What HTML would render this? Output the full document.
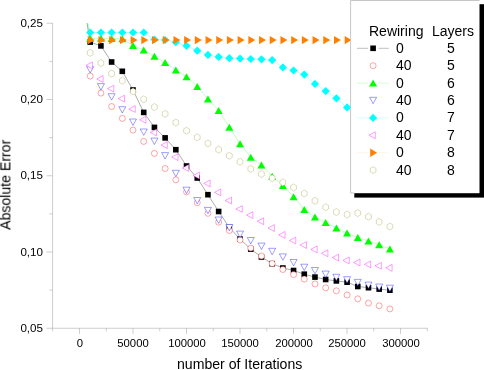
<!DOCTYPE html>
<html><head><meta charset="utf-8"><title>chart</title>
<style>
html,body{margin:0;padding:0;background:#fff;}
body{width:484px;height:370px;position:relative;overflow:hidden;font-family:"Liberation Sans",sans-serif;color:#000;}
.t{position:absolute;white-space:pre;line-height:1;will-change:transform;}
.yl{font-size:11.6px;width:43px;text-align:right;left:0;}
.xl{font-size:11.3px;width:60px;text-align:center;top:338.4px;}
.lg{font-size:14px;}
</style></head><body>
<svg width="484" height="370" viewBox="0 0 484 370" style="position:absolute;left:0;top:0">
<defs><clipPath id="c"><rect x="52" y="23.3" width="376" height="305"/></clipPath></defs>
<g stroke="#b0b0b0" stroke-width=".62" fill="none">
<path d="M52.6 23V331.3M46.5 328.25H427.6"/>
<path d="M46.5 23.25H52.6M49.3 61.38H52.6M46.5 99.5H52.6M49.3 137.62H52.6M46.5 175.75H52.6M49.3 213.88H52.6M46.5 252H52.6M49.3 290.12H52.6"/>
<path d="M79.5 328.2V334M133 328.2V334M186.5 328.2V334M240 328.2V334M293.5 328.2V334M347 328.2V334M400.5 328.2V334M106.25 328.2V331.3M159.75 328.2V331.3M213.25 328.2V331.3M266.75 328.2V331.3M320.25 328.2V331.3M373.75 328.2V331.3M427.25 328.2V331.3"/>
</g>
<g clip-path="url(#c)">
<path d="M79.5 -21L90.2 42.1L100.91 45.9L111.61 62L122.31 71.3L133.01 90L143.72 112.4L154.42 127.4L165.12 137.9L175.83 149.7L186.53 166L197.23 178L207.94 194.7L218.64 211.5L229.34 227.5L240.04 239.1L250.75 249.1L261.45 257L272.15 263.7L282.86 268L293.56 270.5L304.26 274.2L314.97 277.1L325.67 279.5L336.37 280.9L347.07 282.2L357.78 286.5L368.48 287.7L379.18 289.1L389.89 290.2" fill="none" stroke="#000" stroke-opacity="0.6" stroke-width=".55"/>
<g><rect x="87.4" y="39.3" width="5.6" height="5.6" fill="#000"/><rect x="98.11" y="43.1" width="5.6" height="5.6" fill="#000"/><rect x="108.81" y="59.2" width="5.6" height="5.6" fill="#000"/><rect x="119.51" y="68.5" width="5.6" height="5.6" fill="#000"/><rect x="130.21" y="87.2" width="5.6" height="5.6" fill="#000"/><rect x="140.92" y="109.6" width="5.6" height="5.6" fill="#000"/><rect x="151.62" y="124.6" width="5.6" height="5.6" fill="#000"/><rect x="162.32" y="135.1" width="5.6" height="5.6" fill="#000"/><rect x="173.03" y="146.9" width="5.6" height="5.6" fill="#000"/><rect x="183.73" y="163.2" width="5.6" height="5.6" fill="#000"/><rect x="194.43" y="175.2" width="5.6" height="5.6" fill="#000"/><rect x="205.14" y="191.9" width="5.6" height="5.6" fill="#000"/><rect x="215.84" y="208.7" width="5.6" height="5.6" fill="#000"/><rect x="226.54" y="224.7" width="5.6" height="5.6" fill="#000"/><rect x="237.24" y="236.3" width="5.6" height="5.6" fill="#000"/><rect x="247.95" y="246.3" width="5.6" height="5.6" fill="#000"/><rect x="258.65" y="254.2" width="5.6" height="5.6" fill="#000"/><rect x="269.35" y="260.9" width="5.6" height="5.6" fill="#000"/><rect x="280.06" y="265.2" width="5.6" height="5.6" fill="#000"/><rect x="290.76" y="267.7" width="5.6" height="5.6" fill="#000"/><rect x="301.46" y="271.4" width="5.6" height="5.6" fill="#000"/><rect x="312.17" y="274.3" width="5.6" height="5.6" fill="#000"/><rect x="322.87" y="276.7" width="5.6" height="5.6" fill="#000"/><rect x="333.57" y="278.1" width="5.6" height="5.6" fill="#000"/><rect x="344.27" y="279.4" width="5.6" height="5.6" fill="#000"/><rect x="354.98" y="283.7" width="5.6" height="5.6" fill="#000"/><rect x="365.68" y="284.9" width="5.6" height="5.6" fill="#000"/><rect x="376.38" y="286.3" width="5.6" height="5.6" fill="#000"/><rect x="387.09" y="287.4" width="5.6" height="5.6" fill="#000"/></g>
<g><circle cx="90.2" cy="76.1" r="3" fill="#fff" stroke="#ff0000" stroke-opacity=".5" stroke-width="0.7"/><circle cx="100.91" cy="93.1" r="3" fill="#fff" stroke="#ff0000" stroke-opacity=".5" stroke-width="0.7"/><circle cx="111.61" cy="106.5" r="3" fill="#fff" stroke="#ff0000" stroke-opacity=".5" stroke-width="0.7"/><circle cx="122.31" cy="118.4" r="3" fill="#fff" stroke="#ff0000" stroke-opacity=".5" stroke-width="0.7"/><circle cx="133.01" cy="130.1" r="3" fill="#fff" stroke="#ff0000" stroke-opacity=".5" stroke-width="0.7"/><circle cx="143.72" cy="141.4" r="3" fill="#fff" stroke="#ff0000" stroke-opacity=".5" stroke-width="0.7"/><circle cx="154.42" cy="153.4" r="3" fill="#fff" stroke="#ff0000" stroke-opacity=".5" stroke-width="0.7"/><circle cx="165.12" cy="168.5" r="3" fill="#fff" stroke="#ff0000" stroke-opacity=".5" stroke-width="0.7"/><circle cx="175.83" cy="179.8" r="3" fill="#fff" stroke="#ff0000" stroke-opacity=".5" stroke-width="0.7"/><circle cx="186.53" cy="191.9" r="3" fill="#fff" stroke="#ff0000" stroke-opacity=".5" stroke-width="0.7"/><circle cx="197.23" cy="202.7" r="3" fill="#fff" stroke="#ff0000" stroke-opacity=".5" stroke-width="0.7"/><circle cx="207.94" cy="213.3" r="3" fill="#fff" stroke="#ff0000" stroke-opacity=".5" stroke-width="0.7"/><circle cx="218.64" cy="222.1" r="3" fill="#fff" stroke="#ff0000" stroke-opacity=".5" stroke-width="0.7"/><circle cx="229.34" cy="230.5" r="3" fill="#fff" stroke="#ff0000" stroke-opacity=".5" stroke-width="0.7"/><circle cx="240.04" cy="240" r="3" fill="#fff" stroke="#ff0000" stroke-opacity=".5" stroke-width="0.7"/><circle cx="250.75" cy="248.1" r="3" fill="#fff" stroke="#ff0000" stroke-opacity=".5" stroke-width="0.7"/><circle cx="261.45" cy="256" r="3" fill="#fff" stroke="#ff0000" stroke-opacity=".5" stroke-width="0.7"/><circle cx="272.15" cy="263.5" r="3" fill="#fff" stroke="#ff0000" stroke-opacity=".5" stroke-width="0.7"/><circle cx="282.86" cy="269.5" r="3" fill="#fff" stroke="#ff0000" stroke-opacity=".5" stroke-width="0.7"/><circle cx="293.56" cy="274.6" r="3" fill="#fff" stroke="#ff0000" stroke-opacity=".5" stroke-width="0.7"/><circle cx="304.26" cy="279.1" r="3" fill="#fff" stroke="#ff0000" stroke-opacity=".5" stroke-width="0.7"/><circle cx="314.97" cy="283.9" r="3" fill="#fff" stroke="#ff0000" stroke-opacity=".5" stroke-width="0.7"/><circle cx="325.67" cy="287.8" r="3" fill="#fff" stroke="#ff0000" stroke-opacity=".5" stroke-width="0.7"/><circle cx="336.37" cy="290.8" r="3" fill="#fff" stroke="#ff0000" stroke-opacity=".5" stroke-width="0.7"/><circle cx="347.07" cy="295" r="3" fill="#fff" stroke="#ff0000" stroke-opacity=".5" stroke-width="0.7"/><circle cx="357.78" cy="298.8" r="3" fill="#fff" stroke="#ff0000" stroke-opacity=".5" stroke-width="0.7"/><circle cx="368.48" cy="303.1" r="3" fill="#fff" stroke="#ff0000" stroke-opacity=".5" stroke-width="0.7"/><circle cx="379.18" cy="305.8" r="3" fill="#fff" stroke="#ff0000" stroke-opacity=".5" stroke-width="0.7"/><circle cx="389.89" cy="308.9" r="3" fill="#fff" stroke="#ff0000" stroke-opacity=".5" stroke-width="0.7"/></g>
<path d="M79.5 -21L90.2 38.3L100.91 38.3L111.61 38.4L122.31 38.8L133.01 45.4L143.72 50.1L154.42 56.3L165.12 62.6L175.83 69.9L186.53 76.8L197.23 86.5L207.94 99.1L218.64 110.5L229.34 127.2L240.04 143.7L250.75 157.3L261.45 164.9L272.15 176.2L282.86 185.5L293.56 196.7L304.26 209.6L314.97 217L325.67 222.4L336.37 228L347.07 233L357.78 237.5L368.48 241L379.18 244.7L389.89 249" fill="none" stroke="#00ff00" stroke-opacity="0.45" stroke-width=".55"/>
<g><path d="M86.2 41.8L94.2 41.8L90.2 34.8Z" fill="#00ff00"/><path d="M96.91 41.8L104.91 41.8L100.91 34.8Z" fill="#00ff00"/><path d="M107.61 41.9L115.61 41.9L111.61 34.9Z" fill="#00ff00"/><path d="M118.31 42.3L126.31 42.3L122.31 35.3Z" fill="#00ff00"/><path d="M129.01 48.9L137.01 48.9L133.01 41.9Z" fill="#00ff00"/><path d="M139.72 53.6L147.72 53.6L143.72 46.6Z" fill="#00ff00"/><path d="M150.42 59.8L158.42 59.8L154.42 52.8Z" fill="#00ff00"/><path d="M161.12 66.1L169.12 66.1L165.12 59.1Z" fill="#00ff00"/><path d="M171.83 73.4L179.83 73.4L175.83 66.4Z" fill="#00ff00"/><path d="M182.53 80.3L190.53 80.3L186.53 73.3Z" fill="#00ff00"/><path d="M193.23 90L201.23 90L197.23 83Z" fill="#00ff00"/><path d="M203.94 102.6L211.94 102.6L207.94 95.6Z" fill="#00ff00"/><path d="M214.64 114L222.64 114L218.64 107Z" fill="#00ff00"/><path d="M225.34 130.7L233.34 130.7L229.34 123.7Z" fill="#00ff00"/><path d="M236.04 147.2L244.04 147.2L240.04 140.2Z" fill="#00ff00"/><path d="M246.75 160.8L254.75 160.8L250.75 153.8Z" fill="#00ff00"/><path d="M257.45 168.4L265.45 168.4L261.45 161.4Z" fill="#00ff00"/><path d="M268.15 179.7L276.15 179.7L272.15 172.7Z" fill="#00ff00"/><path d="M278.86 189L286.86 189L282.86 182Z" fill="#00ff00"/><path d="M289.56 200.2L297.56 200.2L293.56 193.2Z" fill="#00ff00"/><path d="M300.26 213.1L308.26 213.1L304.26 206.1Z" fill="#00ff00"/><path d="M310.97 220.5L318.97 220.5L314.97 213.5Z" fill="#00ff00"/><path d="M321.67 225.9L329.67 225.9L325.67 218.9Z" fill="#00ff00"/><path d="M332.37 231.5L340.37 231.5L336.37 224.5Z" fill="#00ff00"/><path d="M343.07 236.5L351.07 236.5L347.07 229.5Z" fill="#00ff00"/><path d="M353.78 241L361.78 241L357.78 234Z" fill="#00ff00"/><path d="M364.48 244.5L372.48 244.5L368.48 237.5Z" fill="#00ff00"/><path d="M375.18 248.2L383.18 248.2L379.18 241.2Z" fill="#00ff00"/><path d="M385.89 252.5L393.89 252.5L389.89 245.5Z" fill="#00ff00"/></g>
<g><path d="M86.7 66.6L93.7 66.6L90.2 73Z" fill="#fff" stroke="#0000ff" stroke-opacity=".55" stroke-width="0.7"/><path d="M97.41 83.6L104.41 83.6L100.91 90Z" fill="#fff" stroke="#0000ff" stroke-opacity=".55" stroke-width="0.7"/><path d="M108.11 93.7L115.11 93.7L111.61 100.1Z" fill="#fff" stroke="#0000ff" stroke-opacity=".55" stroke-width="0.7"/><path d="M118.81 106.7L125.81 106.7L122.31 113.1Z" fill="#fff" stroke="#0000ff" stroke-opacity=".55" stroke-width="0.7"/><path d="M129.51 119L136.51 119L133.01 125.4Z" fill="#fff" stroke="#0000ff" stroke-opacity=".55" stroke-width="0.7"/><path d="M140.22 129L147.22 129L143.72 135.4Z" fill="#fff" stroke="#0000ff" stroke-opacity=".55" stroke-width="0.7"/><path d="M150.92 138.1L157.92 138.1L154.42 144.5Z" fill="#fff" stroke="#0000ff" stroke-opacity=".55" stroke-width="0.7"/><path d="M161.62 152.6L168.62 152.6L165.12 159Z" fill="#fff" stroke="#0000ff" stroke-opacity=".55" stroke-width="0.7"/><path d="M172.33 170.3L179.33 170.3L175.83 176.7Z" fill="#fff" stroke="#0000ff" stroke-opacity=".55" stroke-width="0.7"/><path d="M183.03 187.2L190.03 187.2L186.53 193.6Z" fill="#fff" stroke="#0000ff" stroke-opacity=".55" stroke-width="0.7"/><path d="M193.73 197.5L200.73 197.5L197.23 203.9Z" fill="#fff" stroke="#0000ff" stroke-opacity=".55" stroke-width="0.7"/><path d="M204.44 207.4L211.44 207.4L207.94 213.8Z" fill="#fff" stroke="#0000ff" stroke-opacity=".55" stroke-width="0.7"/><path d="M215.14 217L222.14 217L218.64 223.4Z" fill="#fff" stroke="#0000ff" stroke-opacity=".55" stroke-width="0.7"/><path d="M225.84 224.5L232.84 224.5L229.34 230.9Z" fill="#fff" stroke="#0000ff" stroke-opacity=".55" stroke-width="0.7"/><path d="M236.54 231.1L243.54 231.1L240.04 237.5Z" fill="#fff" stroke="#0000ff" stroke-opacity=".55" stroke-width="0.7"/><path d="M247.25 237.5L254.25 237.5L250.75 243.9Z" fill="#fff" stroke="#0000ff" stroke-opacity=".55" stroke-width="0.7"/><path d="M257.95 243.1L264.95 243.1L261.45 249.5Z" fill="#fff" stroke="#0000ff" stroke-opacity=".55" stroke-width="0.7"/><path d="M268.65 248.3L275.65 248.3L272.15 254.7Z" fill="#fff" stroke="#0000ff" stroke-opacity=".55" stroke-width="0.7"/><path d="M279.36 253.9L286.36 253.9L282.86 260.3Z" fill="#fff" stroke="#0000ff" stroke-opacity=".55" stroke-width="0.7"/><path d="M290.06 259.5L297.06 259.5L293.56 265.9Z" fill="#fff" stroke="#0000ff" stroke-opacity=".55" stroke-width="0.7"/><path d="M300.76 264.2L307.76 264.2L304.26 270.6Z" fill="#fff" stroke="#0000ff" stroke-opacity=".55" stroke-width="0.7"/><path d="M311.47 267.5L318.47 267.5L314.97 273.9Z" fill="#fff" stroke="#0000ff" stroke-opacity=".55" stroke-width="0.7"/><path d="M322.17 271.1L329.17 271.1L325.67 277.5Z" fill="#fff" stroke="#0000ff" stroke-opacity=".55" stroke-width="0.7"/><path d="M332.87 274.3L339.87 274.3L336.37 280.7Z" fill="#fff" stroke="#0000ff" stroke-opacity=".55" stroke-width="0.7"/><path d="M343.57 276.7L350.57 276.7L347.07 283.1Z" fill="#fff" stroke="#0000ff" stroke-opacity=".55" stroke-width="0.7"/><path d="M354.28 279.4L361.28 279.4L357.78 285.8Z" fill="#fff" stroke="#0000ff" stroke-opacity=".55" stroke-width="0.7"/><path d="M364.98 282.1L371.98 282.1L368.48 288.5Z" fill="#fff" stroke="#0000ff" stroke-opacity=".55" stroke-width="0.7"/><path d="M375.68 284L382.68 284L379.18 290.4Z" fill="#fff" stroke="#0000ff" stroke-opacity=".55" stroke-width="0.7"/><path d="M386.39 285.2L393.39 285.2L389.89 291.6Z" fill="#fff" stroke="#0000ff" stroke-opacity=".55" stroke-width="0.7"/></g>
<path d="M79.5 -21L90.2 32.5L100.91 32.5L111.61 32.5L122.31 32.5L133.01 32.5L143.72 32.5L154.42 39.5L165.12 40L175.83 42.2L186.53 45.8L197.23 50.7L207.94 54.9L218.64 56.9L229.34 58.2L240.04 58.6L250.75 59L261.45 59.3L272.15 60.1L282.86 67.4L293.56 70.5L304.26 74.6L314.97 83.9L325.67 91.1L336.37 98.3L347.07 107.4L357.78 114L368.48 120L379.18 126L389.89 132" fill="none" stroke="#00ffff" stroke-opacity="0.45" stroke-width=".55"/>
<g><path d="M86.1 32.5L90.2 28.4L94.3 32.5L90.2 36.6Z" fill="#00ffff"/><path d="M96.81 32.5L100.91 28.4L105.01 32.5L100.91 36.6Z" fill="#00ffff"/><path d="M107.51 32.5L111.61 28.4L115.71 32.5L111.61 36.6Z" fill="#00ffff"/><path d="M118.21 32.5L122.31 28.4L126.41 32.5L122.31 36.6Z" fill="#00ffff"/><path d="M128.91 32.5L133.01 28.4L137.11 32.5L133.01 36.6Z" fill="#00ffff"/><path d="M139.62 32.5L143.72 28.4L147.82 32.5L143.72 36.6Z" fill="#00ffff"/><path d="M150.32 39.5L154.42 35.4L158.52 39.5L154.42 43.6Z" fill="#00ffff"/><path d="M161.02 40L165.12 35.9L169.22 40L165.12 44.1Z" fill="#00ffff"/><path d="M171.73 42.2L175.83 38.1L179.93 42.2L175.83 46.3Z" fill="#00ffff"/><path d="M182.43 45.8L186.53 41.7L190.63 45.8L186.53 49.9Z" fill="#00ffff"/><path d="M193.13 50.7L197.23 46.6L201.33 50.7L197.23 54.8Z" fill="#00ffff"/><path d="M203.84 54.9L207.94 50.8L212.04 54.9L207.94 59Z" fill="#00ffff"/><path d="M214.54 56.9L218.64 52.8L222.74 56.9L218.64 61Z" fill="#00ffff"/><path d="M225.24 58.2L229.34 54.1L233.44 58.2L229.34 62.3Z" fill="#00ffff"/><path d="M235.94 58.6L240.04 54.5L244.14 58.6L240.04 62.7Z" fill="#00ffff"/><path d="M246.65 59L250.75 54.9L254.85 59L250.75 63.1Z" fill="#00ffff"/><path d="M257.35 59.3L261.45 55.2L265.55 59.3L261.45 63.4Z" fill="#00ffff"/><path d="M268.05 60.1L272.15 56L276.25 60.1L272.15 64.2Z" fill="#00ffff"/><path d="M278.76 67.4L282.86 63.3L286.96 67.4L282.86 71.5Z" fill="#00ffff"/><path d="M289.46 70.5L293.56 66.4L297.66 70.5L293.56 74.6Z" fill="#00ffff"/><path d="M300.16 74.6L304.26 70.5L308.36 74.6L304.26 78.7Z" fill="#00ffff"/><path d="M310.87 83.9L314.97 79.8L319.07 83.9L314.97 88Z" fill="#00ffff"/><path d="M321.57 91.1L325.67 87L329.77 91.1L325.67 95.2Z" fill="#00ffff"/><path d="M332.27 98.3L336.37 94.2L340.47 98.3L336.37 102.4Z" fill="#00ffff"/><path d="M342.97 107.4L347.07 103.3L351.18 107.4L347.07 111.5Z" fill="#00ffff"/><path d="M353.68 114L357.78 109.9L361.88 114L357.78 118.1Z" fill="#00ffff"/><path d="M364.38 120L368.48 115.9L372.58 120L368.48 124.1Z" fill="#00ffff"/><path d="M375.08 126L379.18 121.9L383.28 126L379.18 130.1Z" fill="#00ffff"/><path d="M385.79 132L389.89 127.9L393.99 132L389.89 136.1Z" fill="#00ffff"/></g>
<g><path d="M92.4 62L92.4 68.8L86 65.4Z" fill="#fff" stroke="#ff00ff" stroke-opacity=".55" stroke-width="0.7"/><path d="M103.11 75.6L103.11 82.4L96.71 79Z" fill="#fff" stroke="#ff00ff" stroke-opacity=".55" stroke-width="0.7"/><path d="M113.81 85.2L113.81 92L107.41 88.6Z" fill="#fff" stroke="#ff00ff" stroke-opacity=".55" stroke-width="0.7"/><path d="M124.51 95.2L124.51 102L118.11 98.6Z" fill="#fff" stroke="#ff00ff" stroke-opacity=".55" stroke-width="0.7"/><path d="M135.21 105.6L135.21 112.4L128.81 109Z" fill="#fff" stroke="#ff00ff" stroke-opacity=".55" stroke-width="0.7"/><path d="M145.92 116.4L145.92 123.2L139.52 119.8Z" fill="#fff" stroke="#ff00ff" stroke-opacity=".55" stroke-width="0.7"/><path d="M156.62 129.1L156.62 135.9L150.22 132.5Z" fill="#fff" stroke="#ff00ff" stroke-opacity=".55" stroke-width="0.7"/><path d="M167.32 141.7L167.32 148.5L160.92 145.1Z" fill="#fff" stroke="#ff00ff" stroke-opacity=".55" stroke-width="0.7"/><path d="M178.03 153.7L178.03 160.5L171.63 157.1Z" fill="#fff" stroke="#ff00ff" stroke-opacity=".55" stroke-width="0.7"/><path d="M188.73 164.6L188.73 171.4L182.33 168Z" fill="#fff" stroke="#ff00ff" stroke-opacity=".55" stroke-width="0.7"/><path d="M199.43 172.2L199.43 179L193.03 175.6Z" fill="#fff" stroke="#ff00ff" stroke-opacity=".55" stroke-width="0.7"/><path d="M210.14 180L210.14 186.8L203.74 183.4Z" fill="#fff" stroke="#ff00ff" stroke-opacity=".55" stroke-width="0.7"/><path d="M220.84 189L220.84 195.8L214.44 192.4Z" fill="#fff" stroke="#ff00ff" stroke-opacity=".55" stroke-width="0.7"/><path d="M231.54 197.1L231.54 203.9L225.14 200.5Z" fill="#fff" stroke="#ff00ff" stroke-opacity=".55" stroke-width="0.7"/><path d="M242.24 205.6L242.24 212.4L235.84 209Z" fill="#fff" stroke="#ff00ff" stroke-opacity=".55" stroke-width="0.7"/><path d="M252.95 211.7L252.95 218.5L246.55 215.1Z" fill="#fff" stroke="#ff00ff" stroke-opacity=".55" stroke-width="0.7"/><path d="M263.65 217.8L263.65 224.6L257.25 221.2Z" fill="#fff" stroke="#ff00ff" stroke-opacity=".55" stroke-width="0.7"/><path d="M274.35 224.7L274.35 231.5L267.95 228.1Z" fill="#fff" stroke="#ff00ff" stroke-opacity=".55" stroke-width="0.7"/><path d="M285.06 231.5L285.06 238.3L278.66 234.9Z" fill="#fff" stroke="#ff00ff" stroke-opacity=".55" stroke-width="0.7"/><path d="M295.76 237.1L295.76 243.9L289.36 240.5Z" fill="#fff" stroke="#ff00ff" stroke-opacity=".55" stroke-width="0.7"/><path d="M306.46 241.6L306.46 248.4L300.06 245Z" fill="#fff" stroke="#ff00ff" stroke-opacity=".55" stroke-width="0.7"/><path d="M317.17 246L317.17 252.8L310.77 249.4Z" fill="#fff" stroke="#ff00ff" stroke-opacity=".55" stroke-width="0.7"/><path d="M327.87 249.9L327.87 256.7L321.47 253.3Z" fill="#fff" stroke="#ff00ff" stroke-opacity=".55" stroke-width="0.7"/><path d="M338.57 254.2L338.57 261L332.17 257.6Z" fill="#fff" stroke="#ff00ff" stroke-opacity=".55" stroke-width="0.7"/><path d="M349.27 257L349.27 263.8L342.88 260.4Z" fill="#fff" stroke="#ff00ff" stroke-opacity=".55" stroke-width="0.7"/><path d="M359.98 259.1L359.98 265.9L353.58 262.5Z" fill="#fff" stroke="#ff00ff" stroke-opacity=".55" stroke-width="0.7"/><path d="M370.68 261L370.68 267.8L364.28 264.4Z" fill="#fff" stroke="#ff00ff" stroke-opacity=".55" stroke-width="0.7"/><path d="M381.38 262.4L381.38 269.2L374.98 265.8Z" fill="#fff" stroke="#ff00ff" stroke-opacity=".55" stroke-width="0.7"/><path d="M392.09 264.4L392.09 271.2L385.69 267.8Z" fill="#fff" stroke="#ff00ff" stroke-opacity=".55" stroke-width="0.7"/></g>
<path d="M79.5 -21L90.2 40.1L100.91 40.1L111.61 40.1L122.31 40.1L133.01 40.1L143.72 40.1L154.42 40.1L165.12 40.1L175.83 40.1L186.53 40.1L197.23 40.1L207.94 40.1L218.64 40.1L229.34 40.1L240.04 40.1L250.75 40.1L261.45 40.1L272.15 40.1L282.86 40.1L293.56 40.1L304.26 40.1L314.97 40.1L325.67 40.1L336.37 40.1L347.07 40.1L357.78 40.1L368.48 40.1L379.18 40.1L389.89 40.1" fill="none" stroke="#ff8000" stroke-opacity="0.2" stroke-width=".55"/>
<g><path d="M87.8 35.9L87.8 44.3L94.7 40.1Z" fill="#ff8000"/><path d="M98.51 35.9L98.51 44.3L105.41 40.1Z" fill="#ff8000"/><path d="M109.21 35.9L109.21 44.3L116.11 40.1Z" fill="#ff8000"/><path d="M119.91 35.9L119.91 44.3L126.81 40.1Z" fill="#ff8000"/><path d="M130.62 35.9L130.62 44.3L137.51 40.1Z" fill="#ff8000"/><path d="M141.32 35.9L141.32 44.3L148.22 40.1Z" fill="#ff8000"/><path d="M152.02 35.9L152.02 44.3L158.92 40.1Z" fill="#ff8000"/><path d="M162.72 35.9L162.72 44.3L169.62 40.1Z" fill="#ff8000"/><path d="M173.43 35.9L173.43 44.3L180.33 40.1Z" fill="#ff8000"/><path d="M184.13 35.9L184.13 44.3L191.03 40.1Z" fill="#ff8000"/><path d="M194.83 35.9L194.83 44.3L201.73 40.1Z" fill="#ff8000"/><path d="M205.54 35.9L205.54 44.3L212.44 40.1Z" fill="#ff8000"/><path d="M216.24 35.9L216.24 44.3L223.14 40.1Z" fill="#ff8000"/><path d="M226.94 35.9L226.94 44.3L233.84 40.1Z" fill="#ff8000"/><path d="M237.65 35.9L237.65 44.3L244.54 40.1Z" fill="#ff8000"/><path d="M248.35 35.9L248.35 44.3L255.25 40.1Z" fill="#ff8000"/><path d="M259.05 35.9L259.05 44.3L265.95 40.1Z" fill="#ff8000"/><path d="M269.75 35.9L269.75 44.3L276.65 40.1Z" fill="#ff8000"/><path d="M280.46 35.9L280.46 44.3L287.36 40.1Z" fill="#ff8000"/><path d="M291.16 35.9L291.16 44.3L298.06 40.1Z" fill="#ff8000"/><path d="M301.86 35.9L301.86 44.3L308.76 40.1Z" fill="#ff8000"/><path d="M312.57 35.9L312.57 44.3L319.47 40.1Z" fill="#ff8000"/><path d="M323.27 35.9L323.27 44.3L330.17 40.1Z" fill="#ff8000"/><path d="M333.97 35.9L333.97 44.3L340.87 40.1Z" fill="#ff8000"/><path d="M344.68 35.9L344.68 44.3L351.57 40.1Z" fill="#ff8000"/><path d="M355.38 35.9L355.38 44.3L362.28 40.1Z" fill="#ff8000"/><path d="M366.08 35.9L366.08 44.3L372.98 40.1Z" fill="#ff8000"/><path d="M376.78 35.9L376.78 44.3L383.68 40.1Z" fill="#ff8000"/><path d="M387.49 35.9L387.49 44.3L394.39 40.1Z" fill="#ff8000"/></g>
<g><path d="M90.2 49.3L93.05 51.05L93.05 54.55L90.2 56.3L87.35 54.55L87.35 51.05Z" fill="#fff" stroke="#808000" stroke-opacity=".4" stroke-width="0.7"/><path d="M100.91 59.5L103.76 61.25L103.76 64.75L100.91 66.5L98.06 64.75L98.06 61.25Z" fill="#fff" stroke="#808000" stroke-opacity=".4" stroke-width="0.7"/><path d="M111.61 70.1L114.46 71.85L114.46 75.35L111.61 77.1L108.76 75.35L108.76 71.85Z" fill="#fff" stroke="#808000" stroke-opacity=".4" stroke-width="0.7"/><path d="M122.31 77.2L125.16 78.95L125.16 82.45L122.31 84.2L119.46 82.45L119.46 78.95Z" fill="#fff" stroke="#808000" stroke-opacity=".4" stroke-width="0.7"/><path d="M133.01 87.9L135.86 89.65L135.86 93.15L133.01 94.9L130.16 93.15L130.16 89.65Z" fill="#fff" stroke="#808000" stroke-opacity=".4" stroke-width="0.7"/><path d="M143.72 95.8L146.57 97.55L146.57 101.05L143.72 102.8L140.87 101.05L140.87 97.55Z" fill="#fff" stroke="#808000" stroke-opacity=".4" stroke-width="0.7"/><path d="M154.42 103.6L157.27 105.35L157.27 108.85L154.42 110.6L151.57 108.85L151.57 105.35Z" fill="#fff" stroke="#808000" stroke-opacity=".4" stroke-width="0.7"/><path d="M165.12 110.4L167.97 112.15L167.97 115.65L165.12 117.4L162.27 115.65L162.27 112.15Z" fill="#fff" stroke="#808000" stroke-opacity=".4" stroke-width="0.7"/><path d="M175.83 119.1L178.68 120.85L178.68 124.35L175.83 126.1L172.98 124.35L172.98 120.85Z" fill="#fff" stroke="#808000" stroke-opacity=".4" stroke-width="0.7"/><path d="M186.53 127.2L189.38 128.95L189.38 132.45L186.53 134.2L183.68 132.45L183.68 128.95Z" fill="#fff" stroke="#808000" stroke-opacity=".4" stroke-width="0.7"/><path d="M197.23 133.8L200.08 135.55L200.08 139.05L197.23 140.8L194.38 139.05L194.38 135.55Z" fill="#fff" stroke="#808000" stroke-opacity=".4" stroke-width="0.7"/><path d="M207.94 139.9L210.79 141.65L210.79 145.15L207.94 146.9L205.09 145.15L205.09 141.65Z" fill="#fff" stroke="#808000" stroke-opacity=".4" stroke-width="0.7"/><path d="M218.64 146.1L221.49 147.85L221.49 151.35L218.64 153.1L215.79 151.35L215.79 147.85Z" fill="#fff" stroke="#808000" stroke-opacity=".4" stroke-width="0.7"/><path d="M229.34 152.2L232.19 153.95L232.19 157.45L229.34 159.2L226.49 157.45L226.49 153.95Z" fill="#fff" stroke="#808000" stroke-opacity=".4" stroke-width="0.7"/><path d="M240.04 158.3L242.89 160.05L242.89 163.55L240.04 165.3L237.19 163.55L237.19 160.05Z" fill="#fff" stroke="#808000" stroke-opacity=".4" stroke-width="0.7"/><path d="M250.75 165.4L253.6 167.15L253.6 170.65L250.75 172.4L247.9 170.65L247.9 167.15Z" fill="#fff" stroke="#808000" stroke-opacity=".4" stroke-width="0.7"/><path d="M261.45 170.5L264.3 172.25L264.3 175.75L261.45 177.5L258.6 175.75L258.6 172.25Z" fill="#fff" stroke="#808000" stroke-opacity=".4" stroke-width="0.7"/><path d="M272.15 174.7L275 176.45L275 179.95L272.15 181.7L269.3 179.95L269.3 176.45Z" fill="#fff" stroke="#808000" stroke-opacity=".4" stroke-width="0.7"/><path d="M282.86 178.9L285.71 180.65L285.71 184.15L282.86 185.9L280.01 184.15L280.01 180.65Z" fill="#fff" stroke="#808000" stroke-opacity=".4" stroke-width="0.7"/><path d="M293.56 184L296.41 185.75L296.41 189.25L293.56 191L290.71 189.25L290.71 185.75Z" fill="#fff" stroke="#808000" stroke-opacity=".4" stroke-width="0.7"/><path d="M304.26 190L307.11 191.75L307.11 195.25L304.26 197L301.41 195.25L301.41 191.75Z" fill="#fff" stroke="#808000" stroke-opacity=".4" stroke-width="0.7"/><path d="M314.97 197.3L317.82 199.05L317.82 202.55L314.97 204.3L312.12 202.55L312.12 199.05Z" fill="#fff" stroke="#808000" stroke-opacity=".4" stroke-width="0.7"/><path d="M325.67 203.7L328.52 205.45L328.52 208.95L325.67 210.7L322.82 208.95L322.82 205.45Z" fill="#fff" stroke="#808000" stroke-opacity=".4" stroke-width="0.7"/><path d="M336.37 208.5L339.22 210.25L339.22 213.75L336.37 215.5L333.52 213.75L333.52 210.25Z" fill="#fff" stroke="#808000" stroke-opacity=".4" stroke-width="0.7"/><path d="M347.07 211L349.93 212.75L349.93 216.25L347.07 218L344.22 216.25L344.22 212.75Z" fill="#fff" stroke="#808000" stroke-opacity=".4" stroke-width="0.7"/><path d="M357.78 209.6L360.63 211.35L360.63 214.85L357.78 216.6L354.93 214.85L354.93 211.35Z" fill="#fff" stroke="#808000" stroke-opacity=".4" stroke-width="0.7"/><path d="M368.48 213.1L371.33 214.85L371.33 218.35L368.48 220.1L365.63 218.35L365.63 214.85Z" fill="#fff" stroke="#808000" stroke-opacity=".4" stroke-width="0.7"/><path d="M379.18 218.4L382.03 220.15L382.03 223.65L379.18 225.4L376.33 223.65L376.33 220.15Z" fill="#fff" stroke="#808000" stroke-opacity=".4" stroke-width="0.7"/><path d="M389.89 223L392.74 224.75L392.74 228.25L389.89 230L387.04 228.25L387.04 224.75Z" fill="#fff" stroke="#808000" stroke-opacity=".4" stroke-width="0.7"/></g>
</g>
<rect x="354.3" y="4.2" width="130" height="193.4" fill="#000"/>
<rect x="350.7" y="0" width="128.8" height="193.2" fill="#fff"/>
<path d="M354.5 193H350.6V0.5H479.5" fill="none" stroke="#b8b8b8" stroke-width=".8"/>
<path d="M357 48.3H368M378.6 48.3H388.8" stroke="#000" stroke-opacity="0.36" stroke-width=".7" fill="none"/>
<rect x="370.3" y="45.5" width="5.6" height="5.6" fill="#000"/>
<circle cx="373.1" cy="65.7" r="3" fill="#fff" stroke="#ff0000" stroke-opacity=".5" stroke-width="0.7"/>
<path d="M357 83.1H368M378.6 83.1H388.8" stroke="#00ff00" stroke-opacity="0.27" stroke-width=".7" fill="none"/>
<path d="M369.1 86.6L377.1 86.6L373.1 79.6Z" fill="#00ff00"/>
<path d="M369.6 97.3L376.6 97.3L373.1 103.7Z" fill="#fff" stroke="#0000ff" stroke-opacity=".55" stroke-width="0.7"/>
<path d="M357 117.9H368M378.6 117.9H388.8" stroke="#00ffff" stroke-opacity="0.27" stroke-width=".7" fill="none"/>
<path d="M369 117.9L373.1 113.8L377.2 117.9L373.1 122Z" fill="#00ffff"/>
<path d="M375.3 131.9L375.3 138.7L368.9 135.3Z" fill="#fff" stroke="#ff00ff" stroke-opacity=".55" stroke-width="0.7"/>
<path d="M357 152.7H368M378.6 152.7H388.8" stroke="#ff8000" stroke-opacity="0.12" stroke-width=".7" fill="none"/>
<path d="M370.2 148.5L370.2 156.9L377.1 152.7Z" fill="#ff8000"/>
<path d="M373.1 166.6L375.95 168.35L375.95 171.85L373.1 173.6L370.25 171.85L370.25 168.35Z" fill="#fff" stroke="#808000" stroke-opacity=".4" stroke-width="0.7"/>
</svg>
<div class="t yl" style="top:16.95px">0,25</div>
<div class="t yl" style="top:93.2px">0,20</div>
<div class="t yl" style="top:169.45px">0,15</div>
<div class="t yl" style="top:245.7px">0,10</div>
<div class="t yl" style="top:321.95px">0,05</div>
<div class="t xl" style="left:49.5px">0</div>
<div class="t xl" style="left:103px">50000</div>
<div class="t xl" style="left:156.5px">100000</div>
<div class="t xl" style="left:210px">150000</div>
<div class="t xl" style="left:263.5px">200000</div>
<div class="t xl" style="left:317px">250000</div>
<div class="t xl" style="left:370.5px">300000</div>
<div class="t" style="font-size:14.1px;left:177.2px;top:357px">number of Iterations</div>
<div class="t" style="font-size:14.1px;left:0;top:0;transform-origin:0 0;transform:translate(-1.6px,229.8px) rotate(-90deg)">Absolute Error</div>
<div class="t lg" style="left:369.3px;top:23.75px">Rewiring</div><div class="t lg" style="left:431.6px;top:23.75px">Layers</div>
<div class="t lg" style="left:396.3px;top:40.85px">0</div><div class="t lg" style="left:447.3px;top:40.85px">5</div>
<div class="t lg" style="left:396.3px;top:58.25px">40</div><div class="t lg" style="left:447.3px;top:58.25px">5</div>
<div class="t lg" style="left:396.3px;top:75.65px">0</div><div class="t lg" style="left:447.3px;top:75.65px">6</div>
<div class="t lg" style="left:396.3px;top:93.05px">40</div><div class="t lg" style="left:447.3px;top:93.05px">6</div>
<div class="t lg" style="left:396.3px;top:110.45px">0</div><div class="t lg" style="left:447.3px;top:110.45px">7</div>
<div class="t lg" style="left:396.3px;top:127.85px">40</div><div class="t lg" style="left:447.3px;top:127.85px">7</div>
<div class="t lg" style="left:396.3px;top:145.25px">0</div><div class="t lg" style="left:447.3px;top:145.25px">8</div>
<div class="t lg" style="left:396.3px;top:162.65px">40</div><div class="t lg" style="left:447.3px;top:162.65px">8</div>
</body></html>
